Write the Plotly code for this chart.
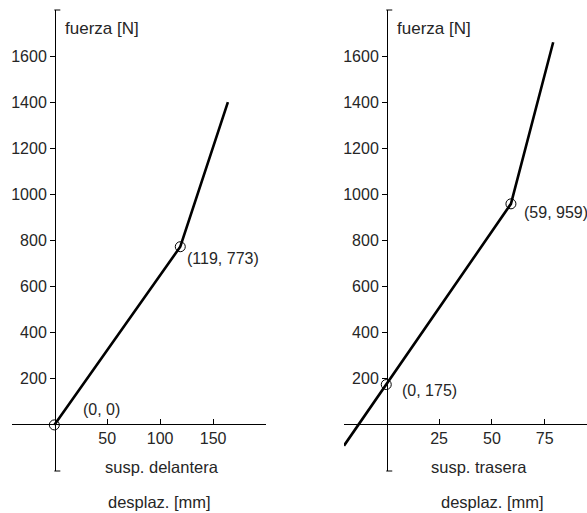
import plotly.graph_objects as go

W, H = 587, 513

# data
front_x = [0, 119, 164]
front_y = [0, 773, 1400]
front_pts_x = [0, 119]
front_pts_y = [0, 773]
front_labels = ["(0, 0)", "(119, 773)"]

rear_x = [-20, 0, 59, 79]
rear_y = [-90, 175, 959, 1660]
rear_pts_x = [0, 59]
rear_pts_y = [175, 959]
rear_labels = ["(0, 175)", "(59, 959)"]

y_ticks = [200, 400, 600, 800, 1000, 1200, 1400, 1600]
front_xticks = [50, 100, 150, 200]
front_xtext = ["50", "100", "150", ""]
rear_xticks = [25, 50, 75]

FONT = "Liberation Sans, Arial, sans-serif"
TXT = "#262626"
FS_TICK = 16
FS_PT = 16
FS_LBL = 17
FS_AX = 16.5

def px(x):
    return x / W

def py(y):
    return (H - y) / H

ydom = [py(471), py(10)]
fig = go.Figure()

line_style = dict(color="black", width=2.6)
mk = dict(symbol="circle-open", size=10, color="black", line=dict(width=1, color="black"))

fig.add_trace(go.Scatter(x=front_x, y=front_y, mode="lines", line=line_style, xaxis="x", yaxis="y", showlegend=False, hoverinfo="skip"))
fig.add_trace(go.Scatter(x=front_pts_x, y=front_pts_y, mode="markers", marker=mk, xaxis="x", yaxis="y", showlegend=False, cliponaxis=False))
fig.add_trace(go.Scatter(x=rear_x, y=rear_y, mode="lines", line=line_style, xaxis="x2", yaxis="y2", showlegend=False, hoverinfo="skip"))
fig.add_trace(go.Scatter(x=rear_pts_x, y=rear_pts_y, mode="markers", marker=mk, xaxis="x2", yaxis="y2", showlegend=False, cliponaxis=False))

axis_common = dict(showgrid=False, zeroline=False, showline=True, linecolor="black", linewidth=1,
                   tickfont=dict(family=FONT, size=FS_TICK, color=TXT), ticklen=5, tickcolor="black")

fig.update_layout(
    width=W, height=H, margin=dict(l=0, r=0, t=0, b=0),
    paper_bgcolor="white", plot_bgcolor="white",
    font=dict(family=FONT, size=FS_TICK, color=TXT),
    xaxis=dict(domain=[px(12), px(266)], range=[-40, 200], anchor="free", position=py(424),
               tickmode="array", tickvals=front_xticks, ticktext=front_xtext, ticks="inside", **axis_common),
    yaxis=dict(domain=ydom, range=[-200, 1800], anchor="free", position=px(55),
               tickmode="array", tickvals=y_ticks, ticks="outside", **axis_common),
    xaxis2=dict(domain=[px(344), 1.0], range=[-20, 95], anchor="free", position=py(424),
                tickmode="array", tickvals=rear_xticks, ticks="inside", **axis_common),
    yaxis2=dict(domain=ydom, range=[-200, 1800], anchor="free", position=px(387),
                tickmode="array", tickvals=y_ticks, ticks="outside", **axis_common),
)

ann = []
def a(text, x, y, xref, yref, size, xanchor="left"):
    ann.append(dict(text=text, x=x, y=y, xref=xref, yref=yref, xanchor=xanchor, yanchor="middle",
                    showarrow=False, font=dict(family=FONT, size=size, color=TXT)))

a("fuerza [N]", 8, 1720, "x", "y", FS_LBL)
a("fuerza [N]", 4, 1720, "x2", "y2", FS_LBL)
a(front_labels[0], 45, 65, "x", "y", FS_PT, "center")
a(front_labels[1], 123, 724, "x", "y", FS_PT)
a(rear_labels[0], 6.5, 151, "x2", "y2", FS_PT)
a(rear_labels[1], 64, 923, "x2", "y2", FS_PT)
a("susp. delantera", px(162), py(467), "paper", "paper", FS_AX, "center")
a("desplaz. [mm]", px(159), py(502), "paper", "paper", FS_AX, "center")
a("susp. trasera", px(479), py(467), "paper", "paper", FS_AX, "center")
a("desplaz. [mm]", px(492), py(502), "paper", "paper", FS_AX, "center")
fig.update_layout(annotations=ann)

# end caps on the y axes
shapes = []
for xr, yr in (("x", "y domain"), ("x2", "y2 domain")):
    for yv in (0, 1):
        shapes.append(dict(type="line", xref=xr, yref=yr, xsizemode="pixel", xanchor=0,
                           x0=0, x1=6, y0=yv, y1=yv, line=dict(color="black", width=1)))
fig.update_layout(shapes=shapes)

fig.write_html("out.html", config={"displayModeBar": False},
               post_script="document.body.style.margin='0';document.body.style.overflow='hidden';")
